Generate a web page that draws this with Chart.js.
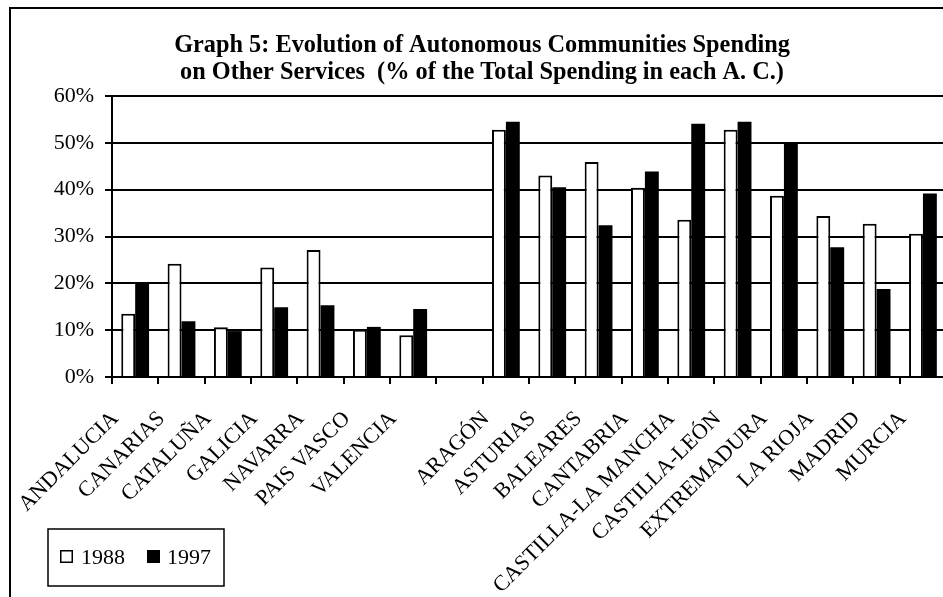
<!DOCTYPE html>
<html>
<head>
<meta charset="utf-8">
<script src="https://cdn.jsdelivr.net/npm/chart.js@4/dist/chart.umd.min.js"></script>
<style>
  html, body { margin: 0; padding: 0; background: #fff; overflow: hidden; }
  #wrap { position: absolute; left: 0; top: 0; width: 964px; height: 597px; }
</style>
</head>
<body>
<div id="wrap"><canvas id="graph5" width="964" height="597"></canvas></div>
<script>
// Graph 5: spending on other services, % of total spending per autonomous community
const CATEGORIES = ['ANDALUCIA', 'CANARIAS', 'CATALUÑA', 'GALICIA', 'NAVARRA', 'PAIS VASCO', 'VALENCIA', '',
  'ARAGÓN', 'ASTURIAS', 'BALEARES', 'CANTABRIA', 'CASTILLA-LA MANCHA', 'CASTILLA-LEÓN', 'EXTREMADURA',
  'LA RIOJA', 'MADRID', 'MURCIA'];
const SERIES_NAMES = ['1988', '1997'];
const VALUES_1988 = [13.5, 24.2, 10.6, 23.4, 27.1, 10.1, 8.9, null, 52.8, 43.0, 45.9, 40.4, 33.6, 52.8, 38.7, 34.4, 32.7, 30.6];
const VALUES_1997 = [19.9, 11.9, 9.8, 14.9, 15.3, 10.7, 14.5, null, 54.5, 40.5, 32.4, 43.9, 54.1, 54.5, 49.8, 27.7, 18.8, 39.2];
const Y_MAX = 60;
const Y_STEP = 10;
const TITLE_LINES = ['Graph 5: Evolution of Autonomous Communities Spending',
  'on Other Services  (% of the Total Spending in each A. C.)'];

const SERIF = "'Liberation Serif', 'Times New Roman', Times, serif";

// outer frame + boxed legend at the lower left (drawn by hand, Excel style)
const framePlugin = {
  id: 'frameAndLegend',
  afterDraw(chart) {
    const ctx = chart.ctx;
    ctx.save();
    ctx.strokeStyle = '#000';
    ctx.lineWidth = 2;
    ctx.strokeRect(10, 8, chart.width + 20, chart.height + 20);

    // legend box
    ctx.lineWidth = 1.5;
    ctx.strokeRect(48, 529, 176, 57);
    const ds = chart.data.datasets;
    const items = [{ x: 60, tx: 81 }, { x: 147, tx: 167 }];
    ctx.font = '22px ' + SERIF;
    ctx.textBaseline = 'alphabetic';
    items.forEach((it, i) => {
      ctx.fillStyle = ds[i].backgroundColor;
      ctx.fillRect(it.x, 550, 13, 13);
      ctx.lineWidth = 1.5;
      ctx.strokeStyle = '#000';
      ctx.strokeRect(it.x + 0.75, 550.75, 11.5, 11.5);
      ctx.fillStyle = '#000';
      ctx.fillText(ds[i].label, it.tx, 564);
    });
    ctx.restore();
  }
};

new Chart(document.getElementById('graph5'), {
  type: 'bar',
  data: {
    labels: CATEGORIES,
    datasets: [
      {
        label: SERIES_NAMES[0],
        data: VALUES_1988,
        backgroundColor: '#ffffff',
        borderColor: '#000000',
        borderWidth: 2,
        categoryPercentage: 0.6,
        barPercentage: 1.0
      },
      {
        label: SERIES_NAMES[1],
        data: VALUES_1997,
        backgroundColor: '#000000',
        borderColor: '#000000',
        borderWidth: 0,
        categoryPercentage: 0.6,
        barPercentage: 1.0
      }
    ]
  },
  options: {
    responsive: false,
    animation: false,
    devicePixelRatio: 1,
    layout: { padding: { left: 14, right: 14, top: 0, bottom: 5 } },
    plugins: {
      legend: { display: false },
      tooltip: { enabled: false },
      title: {
        display: true,
        text: TITLE_LINES,
        color: '#000',
        font: { family: SERIF, size: 24.3, weight: 'bold', lineHeight: '27px' },
        padding: { top: 32, bottom: 10 }
      }
    },
    scales: {
      x: {
        grid: { display: true, drawOnChartArea: false, drawTicks: true, tickLength: 7, color: '#000', lineWidth: 2 },
        border: { display: true, color: '#000', width: 2 },
        ticks: {
          color: '#000',
          font: { family: SERIF, size: 22 },
          minRotation: 45,
          maxRotation: 45,
          autoSkip: false,
          labelOffset: -20,
          padding: 22
        },
        afterFit: s => { s.height = 215; }
      },
      y: {
        min: 0,
        max: Y_MAX,
        grid: { color: '#000', lineWidth: 2, tickLength: 7 },
        border: { display: true, color: '#000', width: 2 },
        ticks: {
          stepSize: Y_STEP,
          color: '#000',
          font: { family: SERIF, size: 22 },
          padding: 11,
          callback: v => v + '%'
        },
        afterFit: s => { s.width = 98; }
      }
    }
  },
  plugins: [framePlugin]
});
</script>
</body>
</html>
